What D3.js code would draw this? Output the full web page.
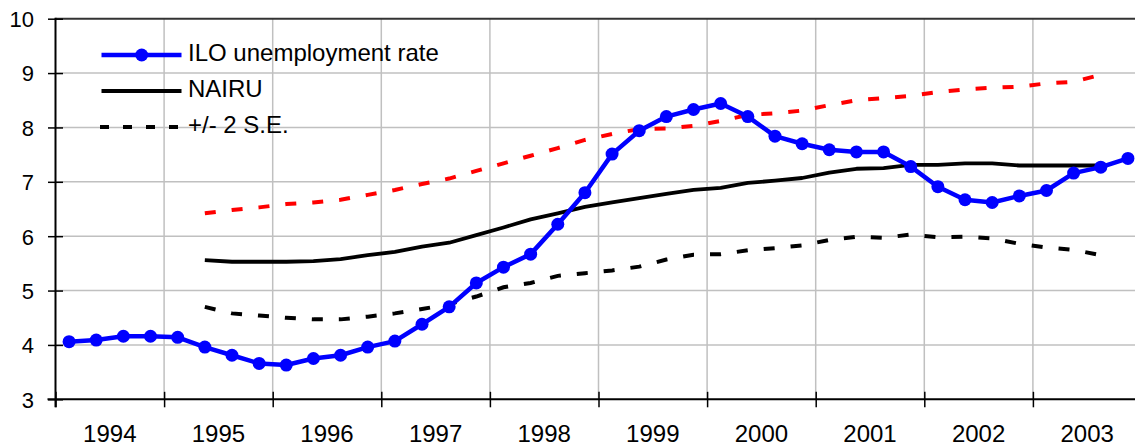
<!DOCTYPE html>
<html>
<head>
<meta charset="utf-8">
<script src="https://cdn.jsdelivr.net/npm/d3@7"></script>
<style>
  html, body { margin: 0; padding: 0; background: #fff; overflow: hidden; }
  svg { display: block; font-family: 'Liberation Sans', Arial, sans-serif; }
  .grid line { stroke: #c0c0c0; stroke-width: 1.5; }
</style>
</head>
<body>
<svg class="unemployment" width="1135" height="446"></svg>
<script>
// quarterly, 1994Q1 .. 2003Q4
const years = ['1994', '1995', '1996', '1997', '1998', '1999', '2000', '2001', '2002', '2003']
const yTicks = [3, 4, 5, 6, 7, 8, 9, 10]

const ilo = [
  4.06, 4.09, 4.16, 4.16, 4.14, 3.96, 3.81, 3.66, 3.63, 3.75,
  3.81, 3.96, 4.07, 4.38, 4.70, 5.14, 5.43, 5.67, 6.22, 6.80,
  7.51, 7.94, 8.20, 8.33, 8.44, 8.20, 7.84, 7.70, 7.59, 7.55,
  7.55, 7.28, 6.91, 6.67, 6.62, 6.74, 6.84, 7.16, 7.27, 7.43
]

// NAIRU and bands start at 1995Q2 (index 5) and stop at 2003Q3
const bandStart = 5
const nairu = [
  5.56, 5.53, 5.53, 5.53, 5.54, 5.58, 5.65, 5.71, 5.81, 5.88,
  6.02, 6.16, 6.31, 6.42, 6.54, 6.62, 6.70, 6.78, 6.85, 6.89,
  6.98, 7.02, 7.07, 7.17, 7.24, 7.25, 7.31, 7.31, 7.34, 7.34,
  7.30, 7.30, 7.30, 7.30
]
const upper = [
  6.42, 6.48, 6.53, 6.59, 6.62, 6.67, 6.76, 6.85, 6.96, 7.06,
  7.20, 7.34, 7.48, 7.62, 7.77, 7.88, 7.97, 7.98, 8.03, 8.12,
  8.23, 8.26, 8.31, 8.41, 8.50, 8.54, 8.58, 8.65, 8.70, 8.73,
  8.75, 8.81, 8.84, 8.97
]
const lower = [
  4.70, 4.58, 4.54, 4.50, 4.47, 4.47, 4.52, 4.58, 4.66, 4.75,
  4.89, 5.06, 5.14, 5.27, 5.32, 5.37, 5.44, 5.57, 5.66, 5.67,
  5.74, 5.78, 5.83, 5.93, 5.99, 5.97, 6.03, 5.98, 5.99, 5.96,
  5.86, 5.79, 5.75, 5.65
]

const legendItems = ['ILO unemployment rate', 'NAIRU', '+/- 2 S.E.']

function chart () {
  const svg = d3.select('.unemployment')
  const plot = { left: 55.5, right: 1141.5, top: 18.7, bottom: 399.3 }

  const x = d3.scaleLinear().domain([0, ilo.length]).range([plot.left, plot.right])
  const y = d3.scaleLinear().domain([3, 10]).range([plot.bottom, plot.top])

  const yearEdges = d3.range(0, ilo.length + 1, 4)

  // grid
  const grid = svg.append('g').attr('class', 'grid')
  grid.selectAll('.h').data(yTicks.slice(1, -1)).enter()
    .append('line')
    .attr('x1', plot.left).attr('x2', plot.right)
    .attr('y1', d => y(d)).attr('y2', d => y(d))
  grid.selectAll('.v').data(yearEdges.slice(1)).enter()
    .append('line')
    .attr('x1', d => x(d)).attr('x2', d => x(d))
    .attr('y1', plot.top).attr('y2', plot.bottom)

  // top border
  svg.append('line')
    .attr('x1', plot.left).attr('x2', plot.right)
    .attr('y1', plot.top).attr('y2', plot.top)
    .attr('stroke', '#333').attr('stroke-width', 2)

  // y axis
  const axisY = d3.axisLeft(y).tickValues(yTicks).tickFormat(d3.format('d')).tickSize(0).tickPadding(0)
  const gy = svg.append('g').attr('transform', `translate(${plot.left},0)`).call(axisY)
  gy.select('.domain').remove()
  gy.selectAll('.tick line').attr('x1', -7.5).attr('x2', 7.5).attr('stroke', '#000').attr('stroke-width', 1.5)
  gy.selectAll('.tick text')
    .attr('x', 34 - plot.left)
    .attr('dy', '0.36em')
    .attr('font-size', 22)
    .attr('font-family', "'Liberation Sans', Arial, sans-serif")
    .attr('fill', '#000')
  gy.append('line')
    .attr('y1', plot.top - 1).attr('y2', plot.bottom + 8)
    .attr('stroke', '#000').attr('stroke-width', 2)

  // x axis
  const axisX = d3.axisBottom(x).tickValues(yearEdges).tickSize(0).tickFormat('')
  const gx = svg.append('g').attr('transform', `translate(0,${plot.bottom})`).call(axisX)
  gx.select('.domain').remove()
  gx.selectAll('.tick line').attr('y1', -7.5).attr('y2', 8).attr('stroke', '#000').attr('stroke-width', 1.5)
  gx.append('line')
    .attr('x1', plot.left - 8).attr('x2', plot.right)
    .attr('stroke', '#000').attr('stroke-width', 2)
  gx.selectAll('.year').data(years).enter()
    .append('text')
    .attr('class', 'year')
    .attr('x', (d, i) => x(i * 4 + 2))
    .attr('y', 43)
    .attr('text-anchor', 'middle')
    .attr('font-size', 24)
    .attr('fill', '#000')
    .text(d => d)

  // series
  const line = d3.line()
    .x(d => x(d.i + 0.5))
    .y(d => y(d.v))

  const toPts = (arr, start) => arr.map((v, k) => ({ i: k + start, v }))

  svg.append('path')
    .datum(toPts(upper, bandStart))
    .attr('d', line)
    .attr('fill', 'none').attr('stroke', '#ff0000').attr('stroke-width', 4)
    .attr('stroke-dasharray', '11,16')

  svg.append('path')
    .datum(toPts(lower, bandStart))
    .attr('d', line)
    .attr('fill', 'none').attr('stroke', '#000').attr('stroke-width', 4)
    .attr('stroke-dasharray', '11,16')

  svg.append('path')
    .datum(toPts(nairu, bandStart))
    .attr('d', line)
    .attr('fill', 'none').attr('stroke', '#000').attr('stroke-width', 3.8)
    .attr('stroke-linejoin', 'round')

  const iloPts = toPts(ilo, 0)
  svg.append('path')
    .datum(iloPts)
    .attr('d', line)
    .attr('fill', 'none').attr('stroke', '#0000ff').attr('stroke-width', 4.5)
    .attr('stroke-linejoin', 'round')

  svg.selectAll('.dot').data(iloPts).enter()
    .append('circle')
    .attr('class', 'dot')
    .attr('cx', d => x(d.i + 0.5))
    .attr('cy', d => y(d.v))
    .attr('r', 6.5)
    .attr('fill', '#0000ff')

  // legend
  const legend = svg.append('g').attr('class', 'legend')
  const rows = legend.selectAll('.row').data(legendItems).enter()
    .append('g')
    .attr('class', 'row')
    .attr('transform', (d, i) => `translate(0,${55 + i * 36})`)

  rows.append('line')
    .attr('x1', (d, i) => i === 2 ? 100 : 101.5)
    .attr('x2', 181.5)
    .attr('stroke', (d, i) => i === 0 ? '#0000ff' : '#000')
    .attr('stroke-width', (d, i) => i === 0 ? 4.5 : 3.8)
    .attr('stroke-dasharray', (d, i) => i === 2 ? '9,14' : null)

  rows.filter((d, i) => i === 0)
    .append('circle')
    .attr('cx', 141.7).attr('r', 6.5).attr('fill', '#0000ff')

  rows.append('text')
    .attr('x', 188)
    .attr('y', 4)
    .attr('dy', '0.1em')
    .attr('font-size', 24)
    .attr('fill', '#000')
    .text(d => d)
}

chart()
</script>
</body>
</html>
